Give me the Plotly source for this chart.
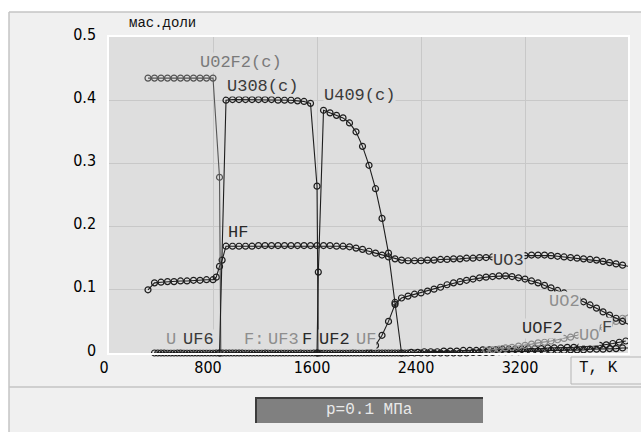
import plotly.graph_objects as go

# ---- equilibrium composition vs temperature, p = 0.1 MPa ----
# UO2F2 (condensed)
uo2f2_t = list(range(300, 801, 50)) + [850, 860]
uo2f2_y = [0.435, 0.435, 0.435, 0.435, 0.435, 0.435, 0.435, 0.435, 0.435, 0.435, 0.435,
           0.278, 0.000]

# U3O8 (condensed)
u3o8_t = [850] + list(range(900, 1601, 50)) + [1610]
u3o8_y = [0.000,
          0.400, 0.401, 0.401, 0.401, 0.401, 0.401, 0.401, 0.401, 0.400, 0.400,
          0.400, 0.399, 0.398, 0.395, 0.264,
          0.000]

# U4O9 (condensed)
u4o9_t = [1600, 1610] + list(range(1650, 2251, 50))
u4o9_y = [0.000, 0.128,
          0.384, 0.380, 0.376, 0.372, 0.364, 0.350, 0.327, 0.297, 0.260, 0.213,
          0.158, 0.080, 0.000]

# HF
hf_t = list(range(300, 801, 50)) + [825, 850, 870] + list(range(900, 4001, 50))
hf_y = [0.100, 0.111, 0.112, 0.113, 0.113, 0.114, 0.114, 0.115, 0.115, 0.116, 0.116,
        0.120, 0.137, 0.147,
        0.169, 0.169, 0.169, 0.169, 0.169, 0.170, 0.170, 0.170, 0.170, 0.170,
        0.170, 0.170, 0.170, 0.170, 0.170, 0.170, 0.170, 0.169, 0.169, 0.168,
        0.166, 0.164, 0.161, 0.158, 0.155, 0.152, 0.149, 0.147, 0.146, 0.146,
        0.146, 0.147, 0.147, 0.148, 0.148, 0.149, 0.149, 0.150, 0.150, 0.151,
        0.151, 0.152, 0.152, 0.153, 0.153, 0.154, 0.154, 0.155, 0.155, 0.155,
        0.154, 0.153, 0.152, 0.151, 0.150, 0.149, 0.148, 0.147, 0.145, 0.143,
        0.141, 0.139, 0.137]

# UO3 (gas)
uo3_t = list(range(2000, 4001, 50))
uo3_y = [0.002, 0.012, 0.028, 0.050, 0.077, 0.087, 0.090, 0.093, 0.095, 0.098,
         0.101, 0.104, 0.108, 0.111, 0.113, 0.115, 0.117, 0.119, 0.120, 0.121,
         0.122, 0.122, 0.121, 0.119, 0.117, 0.114, 0.111, 0.107, 0.103, 0.099,
         0.095, 0.090, 0.086, 0.081, 0.076, 0.071, 0.065, 0.060, 0.055, 0.050,
         0.045]

# UO2 (gas)
uo2_t = list(range(2900, 4001, 50))
uo2_y = [0.004, 0.005, 0.006, 0.008, 0.009, 0.011, 0.012, 0.014, 0.016, 0.017,
         0.019, 0.021, 0.023, 0.025, 0.028, 0.031, 0.034, 0.037, 0.041, 0.045,
         0.050, 0.055, 0.061]

# minor species (UF6, UF3, UF2, UF, F, U, UOF2 ...)
minor_a_t = list(range(350, 4001, 50))
minor_a_y = [0, 0, 0, 0, 0, 0, 0, 0, 0, 0,
             0, 0, 0, 0, 0, 0, 0, 0, 0, 0,
             0, 0, 0, 0, 0, 0, 0, 0, 0, 0,
             0, 0, 0, 0, 0, 0, 0, 0, 0, 0,
             0, 0, 0, 0, 0, 0, 0, 0, 0, 0.001,
             0.001, 0.001, 0.001, 0.002, 0.002, 0.002, 0.002, 0.003, 0.003, 0.003,
             0.003, 0.004, 0.004, 0.004, 0.005, 0.005, 0.005, 0.006, 0.006, 0.006,
             0.007, 0.007, 0.008, 0.008]
minor_b_t = list(range(375, 3976, 50))
minor_b_y = [0, 0, 0, 0, 0, 0, 0, 0, 0, 0,
             0, 0, 0, 0, 0, 0, 0, 0, 0, 0,
             0, 0, 0, 0, 0, 0, 0, 0, 0, 0,
             0, 0, 0, 0, 0, 0, 0, 0, 0, 0.001,
             0.001, 0.002, 0.002, 0.002, 0.003, 0.003, 0.003, 0.004, 0.004, 0.004,
             0.005, 0.005, 0.005, 0.006, 0.006, 0.006, 0.006, 0.007, 0.007, 0.007,
             0.008, 0.008, 0.008, 0.009, 0.009, 0.010, 0.010, 0.011, 0.012, 0.013,
             0.015, 0.017, 0.019]

x_ticks = [0, 800, 1600, 2400, 3200]
y_ticks = [0, 0.1, 0.2, 0.3, 0.4, 0.5]
y_tick_text = ["0", "0.1", "0.2", "0.3", "0.4", "0.5"]

# curve labels: text, T, fraction, colour
curve_labels = [
    ("U02F2(c)", 1015, 0.460, "#7a7a7a"),
    ("U308(c)", 1177, 0.421, "#3a3a3a"),
    ("U409(c)", 1923, 0.408, "#3a3a3a"),
    ("HF", 992, 0.191, "#2a2a2a"),
    ("UO3", 3069, 0.146, "#3a3a3a"),
    ("UO2", 3500, 0.082, "#8e8e8e"),
    ("UOF2", 3338, 0.038, "#2a2a2a"),
    ("UO", 3690, 0.027, "#8e8e8e"),
    ("F", 3831, 0.041, "#444444"),
    ("U", 477, 0.022, "#8e8e8e"),
    ("UF6", 692, 0.022, "#3a3a3a"),
    ("F:", 1115, 0.022, "#8e8e8e"),
    ("UF3", 1346, 0.022, "#8e8e8e"),
    ("F", 1523, 0.022, "#2a2a2a"),
    ("UF2", 1731, 0.022, "#2a2a2a"),
    ("UF", 1977, 0.022, "#8e8e8e"),
]

W, H = 641, 432
ML, MR, MT, MB = 109, 13, 37, 79
PW, PH = W - ML - MR, H - MT - MB

def pxx(x):
    return (x - ML) / PW

def pxy(y):
    return (H - MB - y) / PH

MONO = "Liberation Mono, DejaVu Sans Mono, monospace"
NARROW = "Liberation Sans Narrow, DejaVu Sans Condensed, Liberation Sans, sans-serif"
PLOT_BG = "#dedede"

fig = go.Figure()

def add_curve(t, y, color, name):
    fig.add_trace(go.Scatter(
        x=t, y=y, mode="lines+markers", name=name,
        line=dict(color=color, width=1.1),
        marker=dict(symbol="circle-open", size=6, color=color, line=dict(width=1.2, color=color)),
        cliponaxis=False, showlegend=False, hoverinfo="skip"))

add_curve(minor_a_t, minor_a_y, "#1a1a1a", "minor A")
add_curve(minor_b_t, minor_b_y, "#1a1a1a", "minor B")
add_curve(uo2_t, uo2_y, "#8a8a8a", "UO2")
add_curve(uo3_t, uo3_y, "#1e1e1e", "UO3")
add_curve(hf_t, hf_y, "#1e1e1e", "HF")
add_curve(uo2f2_t, uo2f2_y, "#555555", "UO2F2(c)")
add_curve(u3o8_t, u3o8_y, "#1e1e1e", "U3O8(c)")
add_curve(u4o9_t, u4o9_y, "#1e1e1e", "U4O9(c)")

annotations = []
for text, t, v, col in curve_labels:
    annotations.append(dict(
        x=t, y=v, xref="x", yref="y", text=text, showarrow=False,
        font=dict(family=MONO, size=17, color=col),
        bgcolor=PLOT_BG, borderpad=0, xanchor="center", yanchor="middle"))

annotations += [
    dict(x=pxx(162), y=pxy(23), xref="paper", yref="paper", text="мас.доли",
         showarrow=False, font=dict(family=MONO, size=14, color="#111111"),
         xanchor="center", yanchor="middle"),
    dict(x=pxx(598), y=pxy(368), xref="paper", yref="paper", text="T, K",
         showarrow=False, font=dict(family=MONO, size=16, color="#111111"),
         xanchor="center", yanchor="middle"),
    dict(x=pxx(369), y=pxy(410), xref="paper", yref="paper", text="p=0.1 МПа",
         showarrow=False, font=dict(family=MONO, size=16, color="#e8e8e8"),
         xanchor="center", yanchor="middle"),
]

shapes = [
    # white page strips outside the panel
    dict(type="rect", xref="paper", yref="paper", x0=pxx(0), x1=pxx(W), y0=pxy(12), y1=pxy(0),
         fillcolor="white", line=dict(width=0), layer="below"),
    dict(type="rect", xref="paper", yref="paper", x0=pxx(0), x1=pxx(9), y0=pxy(H), y1=pxy(0),
         fillcolor="white", line=dict(width=0), layer="below"),
    # panel borders
    dict(type="line", xref="paper", yref="paper", x0=pxx(9), x1=pxx(W), y0=pxy(12), y1=pxy(12),
         line=dict(color="#c4c4c4", width=1.5), layer="below"),
    dict(type="line", xref="paper", yref="paper", x0=pxx(9), x1=pxx(9), y0=pxy(12), y1=pxy(H),
         line=dict(color="#c4c4c4", width=1.5), layer="below"),
    dict(type="line", xref="paper", yref="paper", x0=pxx(9), x1=pxx(W), y0=pxy(387), y1=pxy(387),
         line=dict(color="#c4c4c4", width=1.5), layer="below"),
    # axis unit box
    dict(type="rect", xref="paper", yref="paper", x0=pxx(571), x1=pxx(W + 2), y0=pxy(384), y1=pxy(357),
         fillcolor="#f0f0f0", line=dict(color="#b4b4b4", width=1), layer="below"),
    # pressure indicator bar
    dict(type="rect", xref="paper", yref="paper", x0=pxx(255), x1=pxx(483), y0=pxy(423), y1=pxy(397),
         fillcolor="#808080", line=dict(width=0), layer="below"),
    dict(type="line", xref="paper", yref="paper", x0=pxx(255), x1=pxx(483), y0=pxy(398), y1=pxy(398),
         line=dict(color="#3c3c3c", width=2), layer="below"),
    dict(type="line", xref="paper", yref="paper", x0=pxx(256), x1=pxx(256), y0=pxy(397), y1=pxy(423),
         line=dict(color="#3c3c3c", width=2), layer="below"),
]

fig.update_layout(
    width=W, height=H,
    margin=dict(l=ML, r=MR, t=MT, b=MB, pad=0),
    paper_bgcolor="#f0f0f0",
    plot_bgcolor=PLOT_BG,
    showlegend=False,
    annotations=annotations,
    shapes=shapes,
    xaxis=dict(range=[0, 3992], tickvals=x_ticks, ticktext=[str(v) for v in x_ticks],
               showgrid=True, gridcolor="#c8c8c8", gridwidth=1, zeroline=False,
               showline=True, linecolor="white", linewidth=1.5, mirror=True,
               ticks="", ticklabelstandoff=-1, ticklabelshift=-5,
               tickfont=dict(family=NARROW, size=16, color="#000000"), fixedrange=True),
    yaxis=dict(range=[0, 0.5], tickvals=y_ticks, ticktext=y_tick_text,
               showgrid=True, gridcolor="#c8c8c8", gridwidth=1, zeroline=False,
               showline=True, linecolor="white", linewidth=1.5, mirror=True,
               ticks="", ticklabelstandoff=8, ticklabelshift=-3,
               tickfont=dict(family=NARROW, size=16, color="#000000"), fixedrange=True),
)

fig.write_html("out.html")
